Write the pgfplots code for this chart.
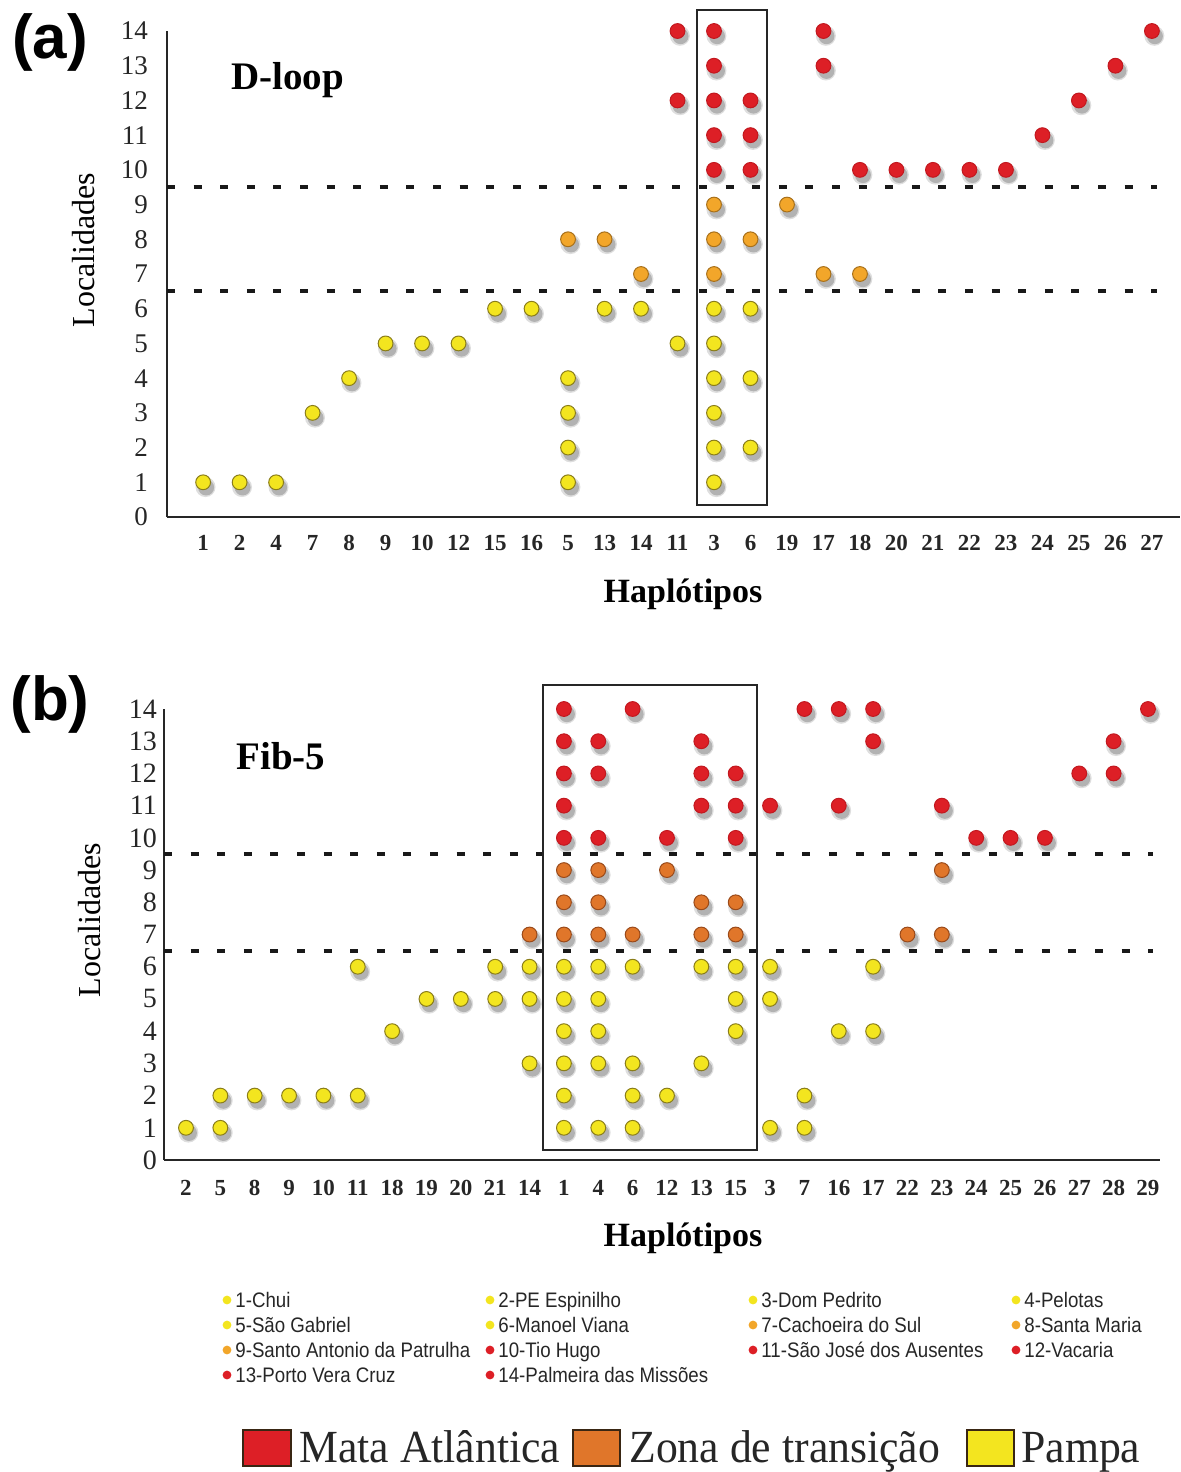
\documentclass[border=0pt]{standalone}
\usepackage{pgfplots}
\usepackage{pgfplotstable}
\pgfplotsset{compat=1.18}
\usepackage{fontspec}
\setmainfont{Liberation Serif}
\newfontfamily\legfont{Liberation Sans}[FakeStretch=0.89]
\newfontfamily\bigleg{Liberation Serif}[FakeStretch=0.95]
\newfontfamily\panelfont{Liberation Sans}

\definecolor{cY}{HTML}{F3E51F}
\definecolor{cYd}{HTML}{8A7D1A}
\definecolor{cOa}{HTML}{F2A62A}
\definecolor{cOad}{HTML}{A8701A}
\definecolor{cOb}{HTML}{E0762A}
\definecolor{cObd}{HTML}{9A4A1A}
\definecolor{cR}{HTML}{DD1F26}
\definecolor{cRd}{HTML}{C2181F}

\pgfplotstableread{
x y
0 1
1 1
2 1
3 3
4 4
5 5
6 5
7 5
8 6
9 6
10 1
10 2
10 3
10 4
11 6
12 6
13 5
14 1
14 2
14 3
14 4
14 5
14 6
15 2
15 4
15 6
}\aY
\pgfplotstableread{
x y
10 8
11 8
12 7
14 7
14 8
14 9
15 8
16 9
17 7
18 7
}\aO
\pgfplotstableread{
x y
13 12
13 14
14 10
14 11
14 12
14 13
14 14
15 10
15 11
15 12
17 13
17 14
18 10
19 10
20 10
21 10
22 10
23 11
24 12
25 13
26 14
}\aR
\pgfplotstableread{
x y
0 1
1 1
1 2
2 2
3 2
4 2
5 2
5 6
6 4
7 5
8 5
9 5
9 6
10 3
10 5
10 6
11 1
11 2
11 3
11 4
11 5
11 6
12 1
12 3
12 4
12 5
12 6
13 1
13 2
13 3
13 6
14 2
15 3
15 6
16 4
16 5
16 6
17 1
17 5
17 6
18 1
18 2
19 4
20 4
20 6
}\bY
\pgfplotstableread{
x y
10 7
11 7
11 8
11 9
12 7
12 8
12 9
13 7
14 9
15 7
15 8
16 7
16 8
21 7
22 7
22 9
}\bO
\pgfplotstableread{
x y
11 10
11 11
11 12
11 13
11 14
12 10
12 12
12 13
13 14
14 10
15 11
15 12
15 13
16 10
16 11
16 12
17 11
18 14
19 11
19 14
20 13
20 14
22 11
23 10
24 10
25 10
26 12
27 12
27 13
28 14
}\bR

\pgfplotsset{
  shadowA/.style={only marks, mark=*, mark size=5pt, forget plot,
    mark options={draw opacity=0, fill=black, fill opacity=0.13, xshift=1.2pt, yshift=-2.4pt}},
  shadowB/.style={only marks, mark=*, mark size=4pt, forget plot,
    mark options={draw opacity=0, fill=black, fill opacity=0.2, xshift=1.5pt, yshift=-2.6pt}},
  dot/.style 2 args={only marks, mark=*, mark size=3.7pt,
    mark options={fill=#1, draw=#2, line width=0.5pt}},
  panel/.style={scale only axis, clip=false, anchor=south west,
    axis x line*=bottom, axis y line*=left,
    axis line style={line width=1pt, color=black!85, -},
    major tick length=0pt, ymin=0, ymax=14, ytick={0,...,14},
    /pgf/number format/assume math mode=true,
    x tick label style={font=\fontsize{11.5}{12}\selectfont\bfseries, text=black!85},
    y tick label style={text=black!85}},
}

\begin{document}
\begin{tikzpicture}
\path[use as bounding box] (0,0) rectangle (590pt,-736pt);

% ---------------- panel (a)
\begin{axis}[panel, at={(83.5pt,-258.5pt)}, width=506.5pt, height=243pt,
  xmin=-0.99, xmax=26.77,
  xtick={0,...,26},
  xticklabels={1,2,4,7,8,9,10,12,15,16,5,13,14,11,3,6,19,17,18,20,21,22,23,24,25,26,27},
  x tick label style={yshift=-5.5pt},
  y tick label style={font=\fontsize{13.5}{14}\selectfont, xshift=-6pt}]
\addplot[dash pattern=on 4pt off 9.3pt, line width=2pt, black!90] coordinates {(-0.99,6.5) (26.14,6.5)};
\addplot[dash pattern=on 4pt off 9.3pt, line width=2pt, black!90] coordinates {(-0.99,9.5) (26.14,9.5)};
\draw[line width=1.2pt, black!85] (axis cs:13.53,0.35) rectangle (axis cs:15.45,14.6);
\addplot[shadowA] table {\aY};
\addplot[shadowA] table {\aO};
\addplot[shadowA] table {\aR};
\addplot[shadowB] table {\aY};
\addplot[shadowB] table {\aO};
\addplot[shadowB] table {\aR};
\addplot[dot={cY}{cYd}] table {\aY};
\addplot[dot={cOa}{cOad}] table {\aO};
\addplot[dot={cR}{cRd}] table {\aR};
\end{axis}

% ---------------- panel (b)
\begin{axis}[panel, at={(82pt,-580pt)}, width=498pt, height=225.5pt,
  xmin=-0.64, xmax=28.35,
  xtick={0,...,28},
  xticklabels={2,5,8,9,10,11,18,19,20,21,14,1,4,6,12,13,15,3,7,16,17,22,23,24,25,26,27,28,29},
  x tick label style={yshift=-6.5pt},
  y tick label style={font=\fontsize{14}{14}\selectfont, xshift=0pt}]
\addplot[dash pattern=on 4pt off 9.3pt, line width=2pt, black!90] coordinates {(-0.64,6.5) (28.14,6.5)};
\addplot[dash pattern=on 4pt off 9.3pt, line width=2pt, black!90] coordinates {(-0.64,9.5) (28.14,9.5)};
\draw[line width=1.2pt, black!85] (axis cs:10.39,0.31) rectangle (axis cs:16.62,14.75);
\addplot[shadowA] table {\bY};
\addplot[shadowA] table {\bO};
\addplot[shadowA] table {\bR};
\addplot[shadowB] table {\bY};
\addplot[shadowB] table {\bO};
\addplot[shadowB] table {\bR};
\addplot[dot={cY}{cYd}] table {\bY};
\addplot[dot={cOb}{cObd}] table {\bO};
\addplot[dot={cR}{cRd}] table {\bR};
\end{axis}

% ---------------- annotations (pixel coordinates)
\begin{scope}[x=0.5pt, y=-0.5pt]
\node[font=\panelfont\bfseries\fontsize{31}{32}\selectfont] at (50,42) {(a)};
\node[font=\panelfont\bfseries\fontsize{31}{32}\selectfont] at (50,704) {(b)};
\node[font=\bfseries\fontsize{19.5}{20}\selectfont, anchor=west, inner sep=0pt] at (231,80) {D-loop};
\node[font=\bfseries\fontsize{19.5}{20}\selectfont, anchor=west, inner sep=0pt] at (236,756) {Fib-5};
\node[font=\bfseries\fontsize{17}{18}\selectfont] at (683,594) {Haplótipos};
\node[font=\bfseries\fontsize{17}{18}\selectfont] at (683,1238) {Haplótipos};
\node[font=\fontsize{16}{17}\selectfont, rotate=90] at (84,250) {Localidades};
\node[font=\fontsize{16}{17}\selectfont, rotate=90] at (90,920) {Localidades};

% small legend
\foreach \px/\py/\col/\txt in {
  227/1300/cY/1-Chui, 490/1300/cY/2-PE Espinilho, 753/1300/cY/3-Dom Pedrito, 1016/1300/cY/4-Pelotas,
  227/1325/cY/5-São Gabriel, 490/1325/cY/6-Manoel Viana, 753/1325/cOa/7-Cachoeira do Sul, 1016/1325/cOa/8-Santa Maria,
  227/1350/cOa/9-Santo Antonio da Patrulha, 490/1350/cR/10-Tio Hugo, 753/1350/cR/11-São José dos Ausentes, 1016/1350/cR/12-Vacaria,
  227/1375/cR/13-Porto Vera Cruz, 490/1375/cR/14-Palmeira das Missões}{
  \fill[\col] (\px,\py) circle (2.2pt);
  \node[anchor=base west, inner sep=0pt, font=\legfont\fontsize{10.5}{11}\selectfont, text=black!85] at (\px+8,\py+7.5) {\txt};
}

% big legend
\draw[fill=cR, draw=black!70!brown, line width=0.8pt] (243,1430) rectangle (291,1466);
\draw[fill=cOb, draw=black!70!brown, line width=0.8pt] (573,1430) rectangle (620,1466);
\draw[fill=cY, draw=black!70!brown, line width=0.8pt] (967,1430) rectangle (1014,1466);
\node[anchor=base west, inner sep=0pt, font=\bigleg\fontsize{23}{24}\selectfont, text=black!85] at (299,1462) {Mata Atlântica};
\node[anchor=base west, inner sep=0pt, font=\bigleg\fontsize{23}{24}\selectfont, text=black!85] at (629,1462) {Zona de transição};
\node[anchor=base west, inner sep=0pt, font=\bigleg\fontsize{23}{24}\selectfont, text=black!85] at (1021,1462) {Pampa};
\end{scope}
\end{tikzpicture}
\end{document}
